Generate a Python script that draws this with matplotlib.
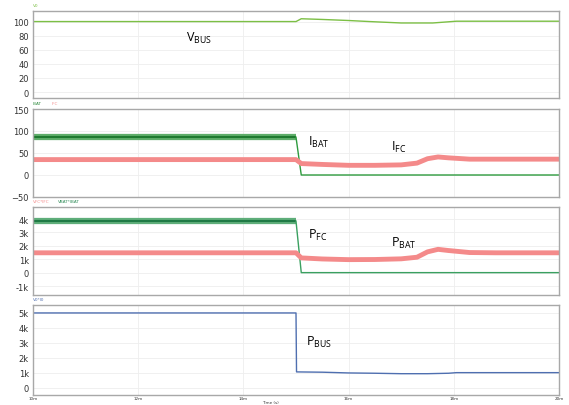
import matplotlib
matplotlib.use("Agg")
import matplotlib.pyplot as plt

# time in ms
t_ticks = [10, 12, 14, 16, 18, 20]
t_tick_labels = ["10m", "12m", "14m", "16m", "18m", "20m"]

t_vbus = [10, 15.0, 15.1, 15.5, 16.0, 16.4, 17.0, 17.6, 18.05, 20]
v_bus = [100, 100, 104, 103, 101.5, 100, 98, 98, 100.5, 100.5]

t_step = [10, 15.0, 15.1, 20]
i_bat = [86, 86, 0, 0]
p_fc = [3850, 3850, 0, 0]

t_fc = [10, 15.0, 15.1, 15.5, 16.0, 16.5, 17.0, 17.3, 17.5, 17.7, 17.9, 18.3, 18.8, 20]
i_fc = [35, 35, 26, 24, 22, 22, 23, 27, 37, 41, 39, 36, 36, 36]
p_bat = [1480, 1480, 1100, 1020, 970, 980, 1030, 1150, 1550, 1740, 1650, 1500, 1480, 1480]

t_pbus = [10, 15.0, 15.01, 15.5, 16.0, 16.5, 17.0, 17.5, 17.9, 18.05, 20]
p_bus = [5000, 5000, 1070, 1050, 1000, 980, 950, 950, 980, 1020, 1020]

fig = plt.figure(figsize=(5.69, 4.06), dpi=100)
W, H = 569, 406

def add_panel(top, bottom):
    ax = fig.add_axes([33 / W, 1 - bottom / H, (559 - 33) / W, (bottom - top) / H])
    for s in ax.spines.values():
        s.set_color("#a8a8a8")
        s.set_linewidth(1)
    ax.set_xlim(10, 20)
    ax.set_xticks(t_ticks)
    ax.grid(True, color="#eeeeee", lw=0.6)
    ax.tick_params(length=0, labelsize=6, colors="#333333", pad=3)
    ax.set_xticklabels([])
    return ax

lab = dict(fontsize=9, family="Open Sans", color="black", ha="left", va="center")

# panel 1: bus voltage
ax1 = add_panel(12, 99)
ax1.plot(t_vbus, v_bus, color="#7cbf45", lw=1)
ax1.set_ylim(-8.5, 115)
ax1.set_yticks([0, 20, 40, 60, 80, 100])
ax1.text(12.9, 78, "V$_{\\mathregular{BUS}}$", **lab)
fig.text(33 / W, 1 - 7 / H, "V0", fontsize=3, color="#7cbf45")

# panel 2: currents (switching ripple shown as a thick band before the step)
ax2 = add_panel(110, 198)
ax2.plot(t_step[:2], i_bat[:2], color="#5fae6a", lw=4.5, solid_capstyle="butt")
ax2.plot(t_step[:2], i_bat[:2], color="#1f7a30", lw=1.5, solid_capstyle="butt")
ax2.plot(t_step[1:], i_bat[1:], color="#2e9b3e", lw=1)
ax2.plot(t_fc, i_fc, color="#f48a8a", lw=3.5, solid_capstyle="butt")
ax2.set_ylim(-50, 150)
ax2.set_yticks([-50, 0, 50, 100, 150])
ax2.text(15.23, 77, "I$_{\\mathregular{BAT}}$", **lab)
ax2.text(16.8, 64, "I$_{\\mathregular{FC}}$", **lab)
fig.text(33 / W, 1 - 105 / H, "IBAT", fontsize=3, color="#2e8b3e")
fig.text(52 / W, 1 - 105 / H, "IFC", fontsize=3, color="#f48a8a")

# panel 3: powers
ax3 = add_panel(208, 296)
ax3.plot(t_step[:2], p_fc[:2], color="#5fae7a", lw=4.5, solid_capstyle="butt")
ax3.plot(t_step[:2], p_fc[:2], color="#1f7a45", lw=1.5, solid_capstyle="butt")
ax3.plot(t_step[1:], p_fc[1:], color="#3aa060", lw=1)
ax3.plot(t_fc, p_bat, color="#f48a8a", lw=3.5, solid_capstyle="butt")
ax3.set_ylim(-1670, 4900)
ax3.set_yticks([-1000, 0, 1000, 2000, 3000, 4000])
ax3.set_yticklabels(["-1k", "0", "1k", "2k", "3k", "4k"])
ax3.text(15.23, 2840, "P$_{\\mathregular{FC}}$", **lab)
ax3.text(16.8, 2240, "P$_{\\mathregular{BAT}}$", **lab)
fig.text(33 / W, 1 - 203 / H, "VFC*IFC", fontsize=3, color="#f48a8a")
fig.text(58 / W, 1 - 203 / H, "VBAT*IBAT", fontsize=3, color="#2e8b57")

# panel 4: bus power
ax4 = add_panel(306, 396)
ax4.plot(t_pbus, p_bus, color="#4f6fb0", lw=1)
ax4.set_ylim(-470, 5530)
ax4.set_yticks([0, 1000, 2000, 3000, 4000, 5000])
ax4.set_yticklabels(["0", "1k", "2k", "3k", "4k", "5k"])
ax4.set_xticklabels(t_tick_labels, fontsize=3)
ax4.tick_params(axis="x", pad=1)
ax4.text(15.19, 3070, "P$_{\\mathregular{BUS}}$", **lab)
fig.text(33 / W, 1 - 301 / H, "V0*I0", fontsize=3, color="#4f6fb0")
fig.text(270 / W, 1 - 404 / H, "Time (s)", fontsize=3, color="#333333", ha="center")

fig.savefig("out.png", dpi=100)
